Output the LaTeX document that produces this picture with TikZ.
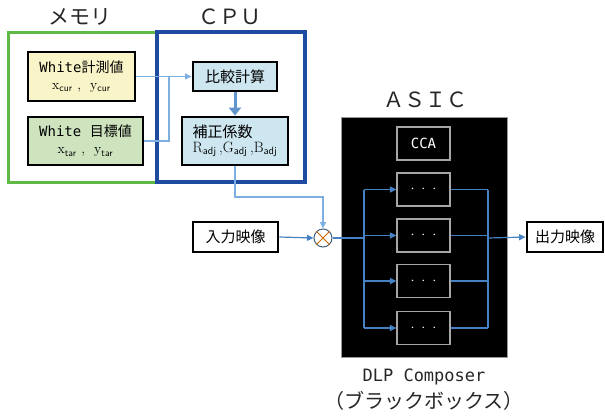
\documentclass[tikz,border=0pt]{standalone}
\usepackage{fontspec}
\usepackage{xcolor}
\usepackage{tikz}
\usetikzlibrary{positioning,arrows.meta,calc}
\newfontfamily\jp{Noto Sans CJK JP}
\newfontfamily\mono{DejaVu Sans Mono}
\definecolor{memgreen}{RGB}{96,184,70}
\definecolor{cpublue}{RGB}{30,75,160}
\definecolor{lblue}{RGB}{125,175,225}
\definecolor{mblue}{RGB}{70,130,195}
\definecolor{ylw}{RGB}{250,245,200}
\definecolor{grn}{RGB}{205,228,190}
\definecolor{cyn}{RGB}{205,230,240}
\newcommand{\subs}[2]{#1\textsubscript{\sffamily #2}}

\begin{document}
\begin{tikzpicture}[x=1pt,y=-1pt,
    blk/.style={draw=black, line width=2.8pt, inner sep=0pt, align=center},
    ibox/.style={draw=black!35, line width=1.2pt, minimum width=53pt, minimum height=33pt, inner sep=0pt},
    lline/.style={draw=lblue, line width=1.2pt},
    aline/.style={draw=mblue, line width=1.2pt},
    tip/.style={-{Triangle[width=6pt,length=6.5pt]}},
    ttl/.style={font=\jp\fontsize{21}{21}\selectfont, text=black!85}]
    \useasboundingbox (0,0) rectangle (605,416);
    % メモリ / CPU 枠
    \draw[memgreen, line width=3pt] (8,32) rectangle (157,182);
    \draw[cpublue, line width=3.5pt] (157,32) rectangle (305,182);
    \node[ttl] (memt) at (80,17) {メモリ};
    \node[ttl] (cput) at (230,17) {ＣＰＵ};
    \node[blk, fill=ylw, minimum width=107pt, minimum height=49pt] (meas) at (81.5,76.5)
        {{\mono\fontsize{14}{16}\selectfont White}{\jp\fontsize{14}{16}\selectfont 計測値}\\[5pt]
         \fontsize{14}{15}\selectfont \subs{x}{cur}\ ,\ \ \subs{y}{cur}};
    \node[blk, fill=grn, minimum width=115pt, minimum height=48pt] (targ) at (85.5,141)
        {{\mono\fontsize{14}{16}\selectfont White }{\jp\fontsize{14}{16}\selectfont 目標値}\\[5pt]
         \fontsize{14}{15}\selectfont \subs{x}{tar}\ ,\ \ \subs{y}{tar}};
    \node[blk, fill=cyn, minimum width=84pt, minimum height=29pt, font=\jp\fontsize{15}{15}\selectfont] (cmp) at (235,76.5) {比較計算};
    \node[blk, fill=cyn, minimum width=106pt, minimum height=48pt, align=left] (corr) at (235,141)
        {{\jp\fontsize{15}{17}\selectfont 補正係数}\\[3pt]
         \fontsize{15}{16}\selectfont \subs{R}{adj}\,,\subs{G}{adj}\,,\subs{B}{adj}};
    \node[blk, fill=white, minimum width=85pt, minimum height=30pt, font=\jp\fontsize{15}{15}\selectfont] (inp) at (235.5,237) {入力映像};
    \node[circle, draw=black!45!lblue, fill=white, line width=1pt, minimum size=18pt, inner sep=0pt] (mul) at (323,238) {};
    \draw[orange!80!black, line width=1pt] (mul.north west) -- (mul.south east) (mul.north east) -- (mul.south west);
    % ASIC
    \fill[black] (341,117) rectangle (507,357);
    \draw[black!40, line width=0.6pt] (341,117) rectangle (507,357);
    \node[ttl] (asict) at (425,100) {ＡＳＩＣ};
    \node[ibox, text=white, font=\mono\fontsize{14}{14}\selectfont] (cca) at (423.5,143.5) {CCA};
    \foreach \i/\y in {1/189.5, 2/235.5, 3/281, 4/328} {
        \node[ibox, text=white, font=\fontsize{14}{14}\selectfont] (d\i) at (423.5,\y) {$\cdot$\hspace{7pt}$\cdot$\hspace{7pt}$\cdot$};
    }
    \node[blk, fill=white, minimum width=76pt, minimum height=30pt, font=\jp\fontsize{15}{15}\selectfont] (out) at (565,237) {出力映像};
    \node[font=\mono\fontsize{17}{17}\selectfont, text=black!85] (dlp) at (424,377) {DLP Composer};
    \node[font=\jp\fontsize{20}{20}\selectfont, text=black!85] (bbox) at (424,401) {（ブラックボックス）};
    % 配線
    \coordinate (j1) at (169,76.5);
    \coordinate (j2) at (235,197);
    \coordinate (bl) at (364,238);
    \coordinate (br) at (488,238);
    \draw[lline, tip] (meas.east) -- (cmp.west);
    \draw[lline] (targ.east) -| (j1);
    \draw[draw=mblue!85!white, line width=3pt, -{Triangle[width=12pt,length=8pt]}] (cmp.south) -- (corr.north);
    \draw[lline, tip] (corr.south) -- (j2) -| (mul.north);
    \draw[aline, tip] (inp.east) -- (mul.west);
    \draw[aline] (mul.east) -- (bl);
    \draw[aline] (bl |- d1.west) -- (bl |- d4.west);
    \draw[aline] (br |- d1.east) -- (br |- d4.east);
    \foreach \i in {1,...,4} {
        \draw[aline, tip] (bl |- d\i.west) -- (d\i.west);
        \draw[aline] (d\i.east) -- (br |- d\i.east);
    }
    \draw[aline, tip] (br) -- (out.west);
\end{tikzpicture}
\end{document}
